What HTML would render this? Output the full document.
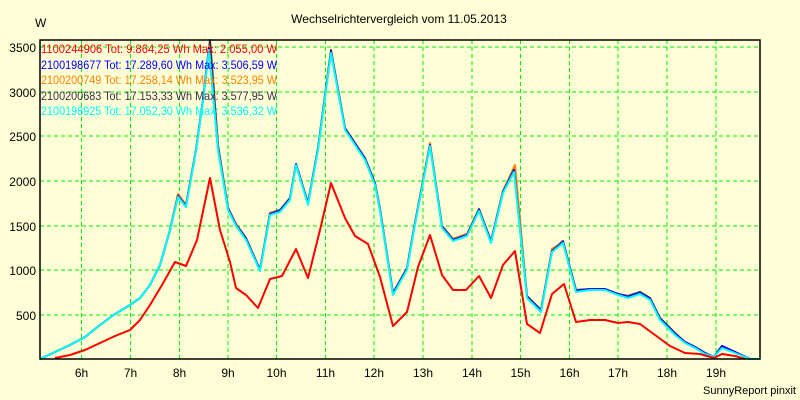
<!DOCTYPE html>
<html><head><meta charset="utf-8"><style>
html,body{margin:0;padding:0;background:#ffffd7;}
svg{display:block;font-family:"Liberation Sans",sans-serif;}
</style></head><body>
<svg width="800" height="400" viewBox="0 0 800 400">
<rect width="800" height="400" fill="#ffffd7"/>
<text x="399" y="23" font-size="12" text-anchor="middle">Wechselrichtervergleich vom 11.05.2013</text>
<text x="35" y="27" font-size="12">W</text>
<g stroke="#00ee00" stroke-width="1" stroke-dasharray="4,3">
<line x1="40" y1="47" x2="760" y2="47"/><line x1="40" y1="92" x2="760" y2="92"/><line x1="40" y1="136" x2="760" y2="136"/><line x1="40" y1="181" x2="760" y2="181"/><line x1="40" y1="226" x2="760" y2="226"/><line x1="40" y1="270" x2="760" y2="270"/><line x1="40" y1="315" x2="760" y2="315"/>
<line x1="81.5" y1="40" x2="81.5" y2="359"/><line x1="130.5" y1="40" x2="130.5" y2="359"/><line x1="179.5" y1="40" x2="179.5" y2="359"/><line x1="228" y1="40" x2="228" y2="359"/><line x1="276.5" y1="40" x2="276.5" y2="359"/><line x1="325.5" y1="40" x2="325.5" y2="359"/><line x1="374" y1="40" x2="374" y2="359"/><line x1="423" y1="40" x2="423" y2="359"/><line x1="472" y1="40" x2="472" y2="359"/><line x1="520.5" y1="40" x2="520.5" y2="359"/><line x1="569.5" y1="40" x2="569.5" y2="359"/><line x1="618" y1="40" x2="618" y2="359"/><line x1="667" y1="40" x2="667" y2="359"/><line x1="716" y1="40" x2="716" y2="359"/>
</g>
<g font-size="12" text-anchor="end">
<text x="36" y="52">3500</text><text x="36" y="97">3000</text><text x="36" y="141">2500</text><text x="36" y="186">2000</text><text x="36" y="231">1500</text><text x="36" y="275">1000</text><text x="36" y="320">500</text>
</g>
<g font-size="12" text-anchor="middle">
<text x="81.5" y="377">6h</text><text x="130.5" y="377">7h</text><text x="179.5" y="377">8h</text><text x="228" y="377">9h</text><text x="276.5" y="377">10h</text><text x="325.5" y="377">11h</text><text x="374" y="377">12h</text><text x="423" y="377">13h</text><text x="472" y="377">14h</text><text x="520.5" y="377">15h</text><text x="569.5" y="377">16h</text><text x="618" y="377">17h</text><text x="667" y="377">18h</text><text x="716" y="377">19h</text>
</g>
<text x="796" y="394" font-size="11" text-anchor="end">SunnyReport pinxit</text>
<g fill="none" stroke-width="2" stroke-linejoin="round">
<polyline stroke="#3a2f48" points="40,359 55,352 70,345 85,337 100,325 115,314 130,305 140,298 150,285 160,265 170,230 178,195 186,205 196,150 203,100 210,40 218,145 228,208 236,224 246,238 260,270 270,213 280,210 290,198 296,164 308,203 318,148 331,50 345,128 355,143 365,158 375,183 380,209 393,293 407,268 414,228 430,144 442,226 453,239 467,234 479,209 491,241 503,191 514,170 527,296 541,310 552,250 563,241 576,290 590,289 605,289 618,294 628,296 640,292 650,298 660,318 675,333 685,342 695,347 705,353 714,357 722,346 735,352 750,359 760,359"/>
<polyline stroke="#ff8000" points="40,359 55,352 70,345 85,337 100,325 115,314 130,305 140,298 150,285 160,265 170,230 178,194 186,205 196,150 203,100 209,46 218,148 228,209 236,224 246,239 260,270 270,213 280,211 290,199 296,164 308,204 318,149 331,52 345,129 355,144 365,159 375,184 380,210 393,294 407,269 414,229 430,143 442,227 453,239 467,234 479,210 491,242 503,191 515,165 527,297 541,311 552,249 563,242 576,291 590,289 605,289 618,294 628,297 640,293 650,299 660,319 675,334 685,342 695,347 705,353 714,357 722,347 735,352 750,359 760,359"/>
<polyline stroke="#0000ff" points="40,359 55,352 70,345 85,337 100,325 115,314 130,305 140,298 150,285 160,265 170,230 178,196 186,206 196,150 203,100 209,48 218,149 228,209 236,225 246,239 260,270 270,214 280,211 290,199 296,164 308,204 318,149 331,52 345,129 355,144 365,159 375,184 380,210 393,294 407,269 414,229 430,145 442,227 453,240 467,235 479,210 491,242 503,192 514,170 527,297 541,311 552,251 563,242 576,291 590,289 605,289 618,294 628,297 640,293 650,299 660,319 675,334 685,342 695,347 705,353 714,357 722,346 735,352 750,359 760,359"/>
<polyline stroke="#00ffff" points="40,359 55,352 70,345 85,337 100,325 115,314 130,305 140,298 150,285 160,265 170,230 178,197 186,207 196,151 203,101 209,50 218,150 228,210 236,226 246,240 260,271 270,215 280,212 290,200 296,165 308,205 318,150 331,53 345,130 355,145 365,160 375,185 380,211 393,295 407,270 414,230 430,146 442,228 453,241 467,236 479,211 491,243 503,193 514,172 527,298 541,312 552,252 563,243 576,292 590,290 605,290 618,295 628,298 640,294 650,300 660,320 675,335 685,343 695,348 705,354 714,357 722,348 735,353 750,359 760,359"/>
<polyline stroke="#ff0000" points="55,358 70,355 85,350 100,343 115,336 130,330 140,320 150,305 162,285 175,262 186,266 197,240 210,178 220,230 230,262 236,288 246,295 258,308 270,279 282,276 296,249 308,278 320,230 331,183 345,218 355,236 368,244 380,277 393,326 407,312 418,267 430,235 442,275 453,290 466,290 479,276 491,298 503,265 515,251 527,324 540,333 552,294 564,284 576,322 590,320 605,320 618,323 628,322 640,324 655,335 670,346 685,353 700,354 714,358 722,354 735,356 745,359"/>
</g>
<g font-size="12" lengthAdjust="spacingAndGlyphs">
<text x="41" y="53" fill="#ff0000" textLength="236" lengthAdjust="spacingAndGlyphs">1100244906 Tot: 9.864,25 Wh Max: 2.055,00 W</text>
<text x="41" y="69" fill="#0000ff" textLength="236" lengthAdjust="spacingAndGlyphs">2100198677 Tot: 17.289,60 Wh Max: 3.506,59 W</text>
<text x="41" y="84" fill="#ff8000" textLength="236" lengthAdjust="spacingAndGlyphs">2100200749 Tot: 17.258,14 Wh Max: 3.523,95 W</text>
<text x="41" y="100" fill="#3a2f48" textLength="236" lengthAdjust="spacingAndGlyphs">2100200683 Tot: 17.153,33 Wh Max: 3.577,95 W</text>
<text x="41" y="115" fill="#00ffff" textLength="236" lengthAdjust="spacingAndGlyphs">2100198925 Tot: 17.052,30 Wh Max: 3.536,32 W</text>
</g>
<rect x="40" y="40" width="720" height="319" fill="none" stroke="#000" stroke-width="1.5"/>
</svg>
</body></html>
